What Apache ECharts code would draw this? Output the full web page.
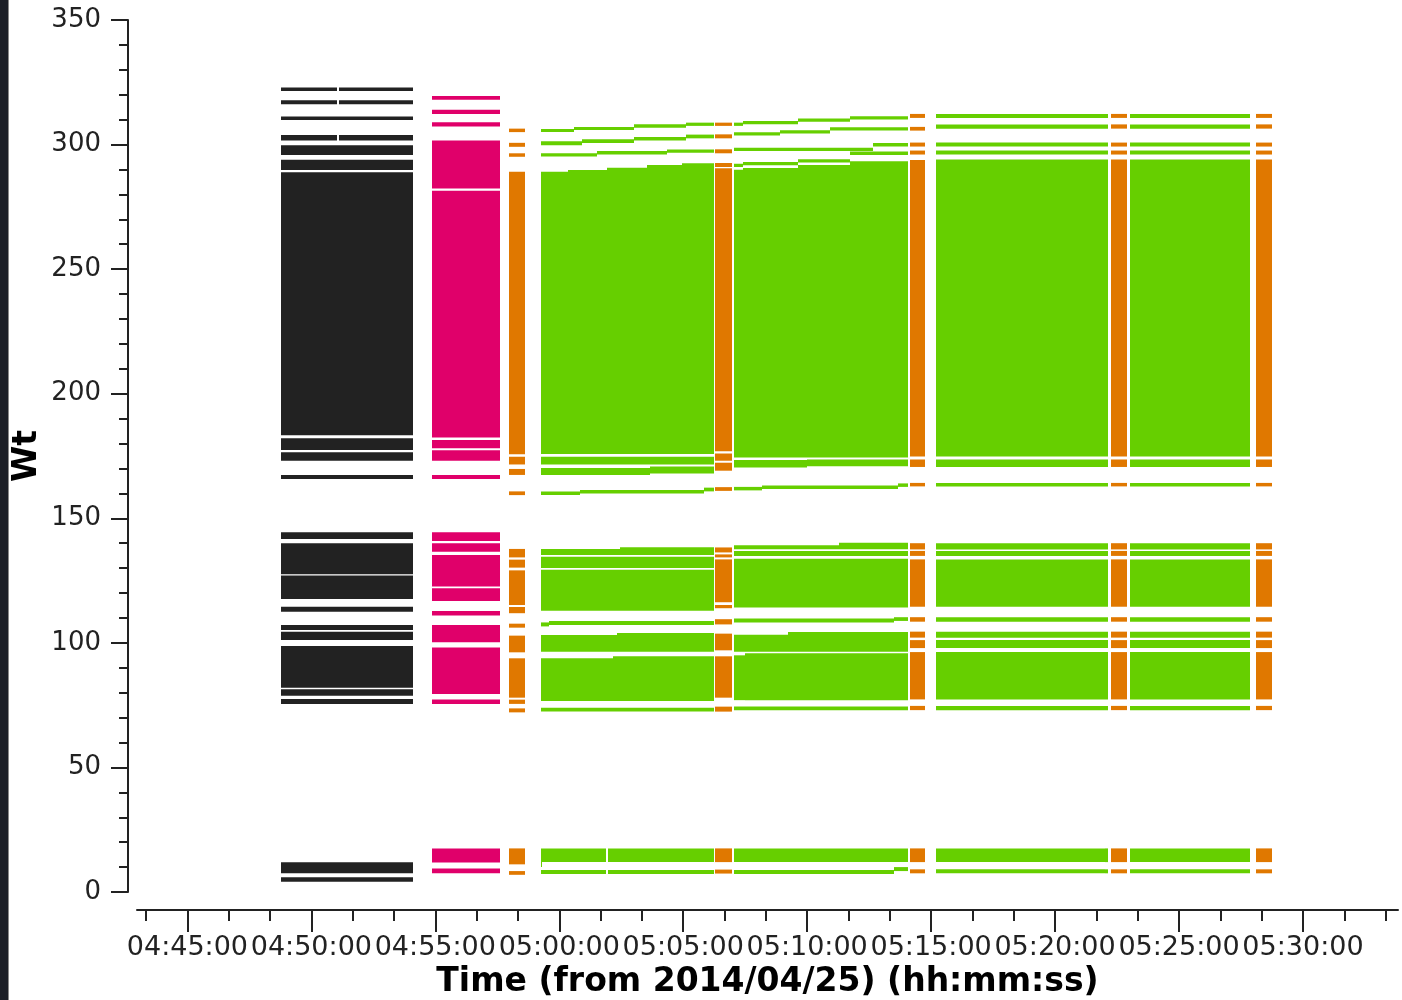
<!DOCTYPE html>
<html><head><meta charset="utf-8">
<script src="https://cdn.jsdelivr.net/npm/echarts/dist/echarts.min.js"></script>
<style>
html,body{margin:0;padding:0;background:#fff;}
#chart{position:absolute;left:0;top:0;width:1402px;height:1000px;}
#strip{position:absolute;left:0;top:0;width:8px;height:1000px;background:#1c1f27;border-right:1px solid #8a8a8a;}
</style>
</head><body>
<div id="chart"></div><div id="strip"></div>
<script>
// ---- tick labels ----
const majorTicks = ['04:45:00','04:50:00','04:55:00','05:00:00','05:05:00','05:10:00','05:15:00','05:20:00','05:25:00','05:30:00'];
const minorTicks = ['04:43:20','04:46:40','04:48:20','04:51:40','04:53:20','04:56:40','04:58:20','05:01:40','05:03:20',
  '05:06:40','05:08:20','05:11:40','05:13:20','05:16:40','05:18:20','05:21:40','05:23:20','05:26:40','05:28:20','05:31:40','05:33:20'];
const xRange = ['04:42:58','05:33:50'];

// ---- scan time ranges ----
const B = ['04:48:46','04:54:06'], BG = ['04:51:02','04:51:07'];
const M = ['04:54:52','04:57:36'];
const O1 = ['04:57:58','04:58:37'], O2 = ['05:06:17','05:06:58'], O3 = ['05:14:09','05:14:46'],
      O4 = ['05:22:16','05:22:55'], O5 = ['05:28:07','05:28:44'];
const G1 = ['04:59:16','05:06:15'], G2 = ['05:07:03','05:14:04'], G3 = ['05:15:12','05:22:09'], G4 = ['05:23:02','05:27:53'];

// ---- segments: [start, end, Wt low, Wt high] ----
const blackSegs = [
  [B[0],BG[0],321.5,322.9],[BG[1],B[1],321.5,322.9],
  [B[0],BG[0],316.2,317.8],[BG[1],B[1],316.2,317.8],
  [B[0],B[1],309.9,311.3],
  [B[0],BG[0],301.6,303.8],[BG[1],B[1],301.6,303.8],
  [B[0],B[1],295.8,299.7],
  [B[0],B[1],289.8,293.9],
  [B[0],B[1],183.3,288.9],
  [B[0],B[1],177.4,182.1],
  [B[0],B[1],173.1,176.5],
  [B[0],B[1],165.8,167.4],
  [B[0],B[1],141.7,144.4],
  [B[0],B[1],127.5,140.0],
  [B[0],B[1],117.6,127.0],
  [B[0],B[1],112.5,114.5],
  [B[0],B[1],105.2,107.2],
  [B[0],B[1],101.1,104.5],
  [B[0],B[1],82.0,98.7],
  [B[0],B[1],78.8,81.4],
  [B[0],B[1],75.5,77.5],
  [B[0],B[1],7.5,11.9],
  [B[0],B[1],4.1,5.9]
];

const magentaSegs = [
  [M[0],M[1],318.0,319.5],
  [M[0],M[1],312.3,314.0],
  [M[0],M[1],307.3,309.0],
  [M[0],M[1],282.4,301.6],
  [M[0],M[1],182.4,281.5],
  [M[0],M[1],178.1,181.4],
  [M[0],M[1],173.1,177.3],
  [M[0],M[1],165.8,167.4],
  [M[0],M[1],140.9,144.4],
  [M[0],M[1],136.6,140.0],
  [M[0],M[1],122.6,135.3],
  [M[0],M[1],116.8,121.9],
  [M[0],M[1],111.0,112.8],
  [M[0],M[1],100.2,107.2],
  [M[0],M[1],79.5,98.1],
  [M[0],M[1],75.5,77.3],
  [M[0],M[1],11.8,17.5],
  [M[0],M[1],7.5,9.4]
];

const orangeSegs = [
  // scan O1
  [O1[0],O1[1],305.0,306.4],[O1[0],O1[1],299.1,300.7],[O1[0],O1[1],295.1,296.5],
  [O1[0],O1[1],175.7,289.1],[O1[0],O1[1],171.6,174.7],[O1[0],O1[1],167.4,169.8],[O1[0],O1[1],159.3,160.8],
  [O1[0],O1[1],134.3,137.7],[O1[0],O1[1],130.2,133.4],[O1[0],O1[1],115.2,129.1],[O1[0],O1[1],111.9,114.4],
  [O1[0],O1[1],106.1,107.7],[O1[0],O1[1],96.2,102.9],[O1[0],O1[1],78.0,93.8],[O1[0],O1[1],75.5,77.2],
  [O1[0],O1[1],72.1,73.7],[O1[0],O1[1],11.1,17.5],[O1[0],O1[1],6.9,8.4],
  // scan O2
  [O2[0],O2[1],307.5,308.8],[O2[0],O2[1],302.5,304.1],[O2[0],O2[1],296.5,298.1],[O2[0],O2[1],291.0,292.6],
  [O2[0],O2[1],176.9,290.5],[O2[0],O2[1],173.1,176.0],[O2[0],O2[1],169.1,172.3],[O2[0],O2[1],161.0,162.5],
  [O2[0],O2[1],136.3,138.3],[O2[0],O2[1],134.3,135.5],[O2[0],O2[1],116.3,133.5],[O2[0],O2[1],113.9,115.2],
  [O2[0],O2[1],107.4,109.5],[O2[0],O2[1],97.0,103.7],[O2[0],O2[1],78.0,94.6],[O2[0],O2[1],72.4,74.4],
  [O2[0],O2[1],12.0,17.5],[O2[0],O2[1],7.4,9.0],
  // scans O3, O4, O5
  [O3[0],O3[1],310.7,312.3],[O3[0],O3[1],305.6,307.1],[O3[0],O3[1],299.2,300.8],[O3[0],O3[1],296.0,297.6],
  [O3[0],O3[1],174.8,293.8],[O3[0],O3[1],170.6,173.6],[O3[0],O3[1],162.8,164.2],
  [O3[0],O3[1],137.5,140.0],[O3[0],O3[1],134.9,136.9],[O3[0],O3[1],114.5,133.5],[O3[0],O3[1],108.5,110.3],
  [O3[0],O3[1],102.1,104.5],[O3[0],O3[1],97.9,101.1],[O3[0],O3[1],77.3,96.3],[O3[0],O3[1],73.0,74.7],
  [O3[0],O3[1],12.0,17.5],[O3[0],O3[1],7.5,9.1],
  [O4[0],O4[1],310.7,312.3],[O4[0],O4[1],306.4,308.1],[O4[0],O4[1],299.2,300.8],[O4[0],O4[1],296.0,297.6],
  [O4[0],O4[1],174.8,294.0],[O4[0],O4[1],170.6,173.6],[O4[0],O4[1],162.8,164.2],
  [O4[0],O4[1],137.5,140.0],[O4[0],O4[1],134.9,136.9],[O4[0],O4[1],114.5,133.5],[O4[0],O4[1],108.5,110.3],
  [O4[0],O4[1],102.1,104.5],[O4[0],O4[1],97.9,101.1],[O4[0],O4[1],77.3,96.3],[O4[0],O4[1],73.0,74.7],
  [O4[0],O4[1],12.0,17.5],[O4[0],O4[1],7.5,9.1],
  [O5[0],O5[1],310.7,312.3],[O5[0],O5[1],306.4,308.1],[O5[0],O5[1],299.2,300.8],[O5[0],O5[1],296.0,297.6],
  [O5[0],O5[1],174.8,294.0],[O5[0],O5[1],170.6,173.6],[O5[0],O5[1],162.8,164.2],
  [O5[0],O5[1],137.5,140.0],[O5[0],O5[1],134.9,136.9],[O5[0],O5[1],114.5,133.5],[O5[0],O5[1],108.5,110.3],
  [O5[0],O5[1],102.1,104.5],[O5[0],O5[1],97.9,101.1],[O5[0],O5[1],77.3,96.3],[O5[0],O5[1],73.0,74.7],
  [O5[0],O5[1],12.0,17.5],[O5[0],O5[1],7.5,9.1]
];

const greenSegs = [
  // scan G1 - top lines (drifting upward)
  [G1[0],'05:00:36',305.0,306.3],['05:00:36','05:03:01',305.8,307.1],['05:03:01','05:05:07',306.8,308.2],['05:05:07',G1[1],307.5,308.8],
  [G1[0],'05:00:55',299.7,301.3],['05:00:55','05:03:01',300.6,302.1],['05:03:01','05:05:07',301.6,303.0],['05:05:07',G1[1],302.5,304.0],
  [G1[0],'05:01:31',295.2,296.5],['05:01:31','05:04:21',296.0,297.4],['05:04:21',G1[1],296.7,298.0],
  // G1 main block
  [G1[0],'05:00:21',175.8,289.1],['05:00:21','05:01:56',175.8,289.8],['05:01:56','05:03:32',175.8,290.7],
  ['05:03:32','05:04:57',175.8,291.8],['05:04:57',G1[1],175.8,292.5],
  [G1[0],G1[1],171.6,174.7],
  [G1[0],'05:03:40',167.4,170.2],['05:03:40',G1[1],168.0,170.8],
  [G1[0],'05:00:50',159.3,160.8],['05:00:50','05:05:50',159.9,161.4],['05:05:50',G1[1],160.8,162.3],
  // G1 middle
  [G1[0],'05:02:28',135.3,137.7],['05:02:28',G1[1],135.3,138.4],
  [G1[0],G1[1],130.0,134.6],
  [G1[0],G1[1],112.9,129.3],
  [G1[0],'04:59:35',106.6,108.2],['04:59:35',G1[1],107.2,108.8],
  [G1[0],'05:02:20',96.4,103.2],['05:02:20',G1[1],96.4,104.0],
  [G1[0],'05:02:10',76.7,93.8],['05:02:10',G1[1],76.7,94.6],
  [G1[0],G1[1],72.4,74.0],
  // G1 bottom
  [G1[0],'05:01:54',12.0,17.5],['05:01:59',G1[1],12.0,17.5],[G1[0],'04:59:19',10.0,12.0],
  [G1[0],'05:01:54',7.2,8.8],['05:01:59',G1[1],7.2,8.8],

  // scan G2 - top lines
  [G2[0],'05:07:25',307.5,308.8],['05:07:25','05:09:38',308.2,309.5],['05:09:38','05:11:44',309.2,310.5],['05:11:44',G2[1],310.1,311.4],
  [G2[0],'05:08:55',303.6,304.9],['05:08:55','05:10:56',304.4,305.7],['05:10:56',G2[1],305.6,307.0],
  [G2[0],'05:12:40',297.4,298.7],['05:12:40',G2[1],299.2,300.6],
  [G2[0],'05:07:25',291.0,292.3],['05:07:25','05:09:38',291.7,293.0],['05:09:38','05:11:44',292.8,294.1],['05:11:44',G2[1],295.8,297.2],
  // G2 main block
  [G2[0],'05:07:25',174.4,289.9],['05:07:25','05:09:38',174.4,290.6],['05:09:38','05:11:44',174.4,291.8],['05:11:44',G2[1],174.4,293.3],
  [G2[0],'05:10:00',170.4,173.4],['05:10:00',G2[1],170.9,173.6],
  [G2[0],'05:08:10',161.2,162.6],['05:08:10','05:13:40',161.8,163.2],['05:13:40',G2[1],162.6,164.0],
  // G2 middle
  [G2[0],'05:11:17',137.6,139.2],['05:11:17',G2[1],137.6,140.2],
  [G2[0],G2[1],134.9,136.9],
  [G2[0],G2[1],114.2,133.8],
  [G2[0],'05:13:30',108.2,109.8],['05:13:30',G2[1],108.8,110.3],
  [G2[0],'05:09:14',96.4,103.3],['05:09:14',G2[1],96.4,104.4],
  [G2[0],'05:07:30',77.0,95.0],['05:07:30',G2[1],77.0,95.8],
  [G2[0],G2[1],73.0,74.5],
  // G2 bottom
  [G2[0],G2[1],12.0,17.5],
  [G2[0],'05:13:30',7.2,8.8],['05:13:30',G2[1],8.4,10.0],

  // scan G3
  [G3[0],G3[1],310.7,312.3],[G3[0],G3[1],306.4,308.1],[G3[0],G3[1],299.2,300.8],[G3[0],G3[1],296.0,297.6],
  [G3[0],G3[1],174.8,294.0],[G3[0],G3[1],170.6,173.6],[G3[0],G3[1],162.8,164.2],
  [G3[0],G3[1],137.5,140.0],[G3[0],G3[1],134.9,136.9],[G3[0],G3[1],114.5,133.5],[G3[0],G3[1],108.5,110.3],
  [G3[0],G3[1],102.1,104.5],[G3[0],G3[1],97.9,101.1],[G3[0],G3[1],77.3,96.3],[G3[0],G3[1],73.0,74.7],
  [G3[0],'05:22:00',12.0,17.5],['05:22:02',G3[1],12.0,17.5],[G3[0],'05:22:00',7.5,9.1],['05:22:02',G3[1],7.5,9.1],

  // scan G4
  [G4[0],G4[1],310.7,312.3],[G4[0],G4[1],306.4,308.1],[G4[0],G4[1],299.2,300.8],[G4[0],G4[1],296.0,297.6],
  [G4[0],G4[1],174.8,294.0],[G4[0],G4[1],170.6,173.6],[G4[0],G4[1],162.8,164.2],
  [G4[0],G4[1],137.5,140.0],[G4[0],G4[1],134.9,136.9],[G4[0],G4[1],114.5,133.5],[G4[0],G4[1],108.5,110.3],
  [G4[0],G4[1],102.1,104.5],[G4[0],G4[1],97.9,101.1],[G4[0],G4[1],77.3,96.3],[G4[0],G4[1],73.0,74.7],
  [G4[0],G4[1],12.0,17.5],[G4[0],G4[1],7.5,9.1]
];

// ---- helpers ----
const T = s => { const p = s.split(':').map(Number); return p[0]*3600 + p[1]*60 + p[2]; };
const pad = n => String(n).padStart(2,'0');
const fmt = v => { v = Math.round(v); return pad(Math.floor(v/3600)) + ':' + pad(Math.floor(v/60)%60) + ':' + pad(v%60); };
const toData = segs => segs.map(r => [T(r[0]), T(r[1]), r[2], r[3]]);

function rectItem(params, api) {
  const a = api.coord([api.value(0), api.value(3)]);
  const b = api.coord([api.value(1), api.value(2)]);
  const x0 = Math.round(a[0]), x1 = Math.round(b[0]);
  return { type: 'rect', shape: { x: x0, y: a[1], width: x1 - x0, height: b[1]-a[1] },
           style: { fill: api.visual('color') } };
}

const FONT = 'DejaVu Sans';
const AX = '#222222';
const chart = echarts.init(document.getElementById('chart'), null, { renderer: 'canvas' });

const mkSeries = (name, segs, color) => ({
  name, type: 'custom', renderItem: rectItem, data: toData(segs), xAxisIndex: 0,
  encode: { x: [0,1], y: [2,3] }, itemStyle: { color }, clip: false, silent: true
});

const xBase = { type: 'value', position: 'bottom', min: T(xRange[0]), max: T(xRange[1]), offset: 18, splitLine: { show: false } };

chart.setOption({
  animation: false,
  backgroundColor: '#ffffff',
  grid: { left: 137, right: 4, top: 20, bottom: 108, containLabel: false, outerBoundsMode: 'none' },
  xAxis: [
    Object.assign({}, xBase, {
      axisLine: { show: true, onZero: false, lineStyle: { color: AX, width: 2 } },
      axisTick: { show: false },
      axisLabel: { show: true, customValues: majorTicks.map(T), formatter: fmt, fontFamily: FONT, fontSize: 27, color: AX, margin: 24 },
      name: 'Time (from 2014/04/25) (hh:mm:ss)', nameLocation: 'middle', nameGap: 55,
      nameTextStyle: { fontFamily: FONT, fontSize: 33, fontWeight: 'bold', color: '#000' }
    }),
    Object.assign({}, xBase, {
      axisLine: { show: false, onZero: false },
      axisTick: { show: true, length: 22, lineStyle: { color: AX, width: 2 }, customValues: majorTicks.map(T) },
      axisLabel: { show: false }
    }),
    Object.assign({}, xBase, {
      axisLine: { show: false, onZero: false },
      axisTick: { show: true, length: 11, lineStyle: { color: AX, width: 2 }, customValues: minorTicks.map(T) },
      axisLabel: { show: false }
    })
  ],
  yAxis: {
    type: 'value', min: 0, max: 350, interval: 50, offset: 9,
    axisLine: { show: true, onZero: false, lineStyle: { color: AX, width: 2 } },
    axisTick: { show: true, length: 17, lineStyle: { color: AX, width: 2 } },
    minorTick: { show: true, splitNumber: 5, length: 9, lineStyle: { color: AX, width: 2 } },
    axisLabel: { fontFamily: FONT, fontSize: 26, color: AX, margin: 27 },
    splitLine: { show: false },
    name: 'Wt', nameLocation: 'middle', nameGap: 84, nameMoveOverlap: false,
    nameTextStyle: { fontFamily: FONT, fontSize: 33, fontWeight: 'bold', color: '#000' }
  },
  series: [
    mkSeries('black', blackSegs, '#222222'),
    mkSeries('magenta', magentaSegs, '#e0006a'),
    mkSeries('orange', orangeSegs, '#e07800'),
    mkSeries('green', greenSegs, '#66cf00')
  ]
});
</script>
</body></html>
